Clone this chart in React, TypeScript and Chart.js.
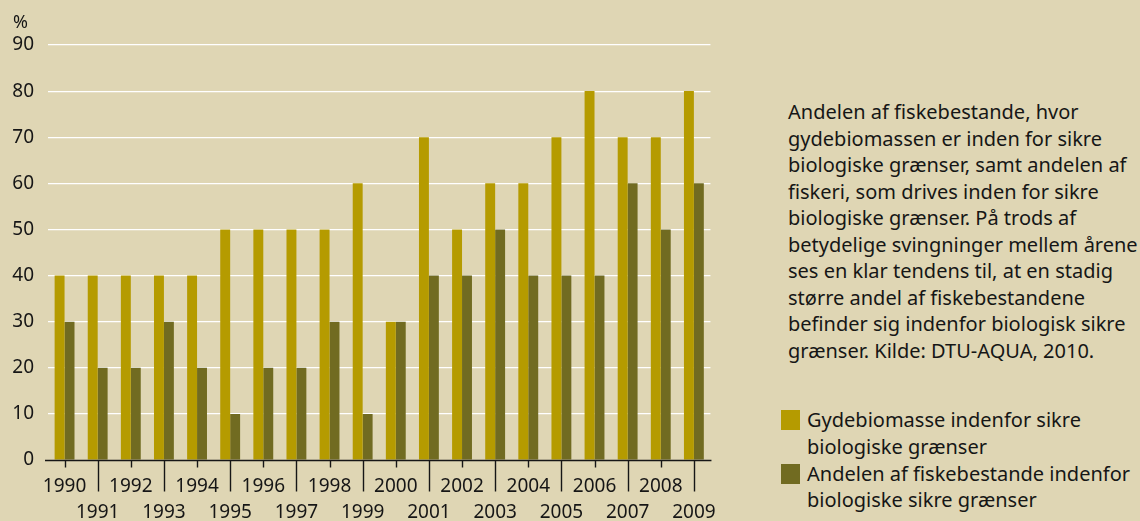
import React, { useEffect, useRef } from "react";
import { Chart, registerables } from "chart.js";

Chart.register(...registerables);

const years = [
  "1990", "1991", "1992", "1993", "1994", "1995", "1996", "1997", "1998", "1999",
  "2000", "2001", "2002", "2003", "2004", "2005", "2006", "2007", "2008", "2009",
];
const gydebiomasse = [40, 40, 40, 40, 40, 50, 50, 50, 50, 60, 30, 70, 50, 60, 60, 70, 80, 70, 70, 80];
const andelen = [30, 20, 20, 30, 20, 10, 20, 20, 30, 10, 30, 40, 40, 50, 40, 40, 40, 60, 50, 60];
const yTickValues = [0, 10, 20, 30, 40, 50, 60, 70, 80, 90];
const unitLabel = "%";
const seriesNames = [
  "Gydebiomasse indenfor sikre biologiske grænser",
  "Andelen af fiskebestande indenfor biologiske sikre grænser",
];
const legendLines = [
  ["Gydebiomasse indenfor sikre", "biologiske grænser"],
  ["Andelen af fiskebestande indenfor", "biologiske sikre grænser"],
];
const descriptionLines = [
  "Andelen af fiskebestande, hvor",
  "gydebiomassen er inden for sikre",
  "biologiske grænser, samt andelen af",
  "fiskeri, som drives inden for sikre",
  "biologiske grænser. På trods af",
  "betydelige svingninger mellem årene",
  "ses en klar tendens til, at en stadig",
  "større andel af fiskebestandene",
  "befinder sig indenfor biologisk sikre",
  "grænser. Kilde: DTU-AQUA, 2010.",
];

const BG = "#dfd6b4";
const GOLD = "#b59b00";
const OLIVE = "#716b21";
const INK = "#161616";
const FONT = "'Noto Sans', 'Open Sans', sans-serif";

const axisPlugin = {
  id: "yearAxis",
  afterDraw(chart: any) {
    const xs = chart.scales.x;
    const ctx = chart.ctx;
    const area = chart.chartArea;
    const y0 = Math.round(area.bottom) + 0.5;
    ctx.save();
    ctx.strokeStyle = INK;
    ctx.lineWidth = 1.4;
    ctx.beginPath();
    ctx.moveTo(area.left - 3, y0);
    ctx.lineTo(area.right + 1, y0);
    ctx.stroke();
    years.forEach((_, i) => {
      const px = Math.round(xs.getPixelForValue(i)) + 0.5;
      ctx.beginPath();
      ctx.moveTo(px, y0);
      ctx.lineTo(px, y0 + (i % 2 === 0 ? 7 : 31));
      ctx.stroke();
    });
    ctx.restore();
  },
};

export default function App() {
  const canvasRef = useRef<HTMLCanvasElement | null>(null);

  useEffect(() => {
    document.body.style.margin = "0";
    const canvas = canvasRef.current;
    if (!canvas) return;
    Chart.defaults.font.family = FONT;
    Chart.defaults.font.size = 19;
    Chart.defaults.color = INK;
    const chart = new Chart(canvas, {
      type: "bar",
      data: {
        labels: years,
        datasets: [
          {
            label: seriesNames[0],
            data: gydebiomasse,
            backgroundColor: GOLD,
            borderWidth: 0,
            categoryPercentage: 0.6,
            barPercentage: 1,
          },
          {
            label: seriesNames[1],
            data: andelen,
            backgroundColor: OLIVE,
            borderWidth: 0,
            categoryPercentage: 0.6,
            barPercentage: 1,
          },
        ],
      },
      options: {
        responsive: false,
        animation: false,
        layout: { padding: { top: 45, right: 15, left: 0, bottom: 0 } },
        plugins: {
          legend: { display: false },
          tooltip: { enabled: false },
        },
        scales: {
          x: {
            offset: true,
            grid: { display: false, drawTicks: false },
            border: { display: false },
            ticks: {
              autoSkip: false,
              maxRotation: 0,
              minRotation: 0,
              padding: 14,
              font: { size: 19, lineHeight: "26px" as any },
              callback: (_v: any, i: number) => (i % 2 === 0 ? [years[i]] : ["", years[i]]),
            },
            afterFit: (s: any) => {
              s.height = 61;
            },
          },
          y: {
            min: 0,
            max: 90,
            afterBuildTicks: (s: any) => {
              s.ticks = yTickValues.map((v) => ({ value: v }));
            },
            grid: {
              drawTicks: false,
              color: (c: any) => (c.tick && c.tick.value === 0 ? "rgba(0,0,0,0)" : "#ffffff"),
              lineWidth: 1.2,
            },
            border: { display: false },
            ticks: { padding: 14, font: { size: 19 } },
            afterFit: (s: any) => {
              s.width = 48;
            },
          },
        },
      },
      plugins: [axisPlugin],
    });
    return () => chart.destroy();
  }, []);

  return (
    <div
      style={{
        position: "absolute",
        left: 0,
        top: 0,
        width: 1140,
        height: 521,
        background: BG,
        overflow: "hidden",
        fontFamily: FONT,
        color: INK,
      }}
    >
      <canvas ref={canvasRef} width={730} height={521} style={{ position: "absolute", left: 0, top: 0 }} />
      <div style={{ position: "absolute", left: 13, top: 8, fontSize: 18, lineHeight: "26px" }}>{unitLabel}</div>
      <div style={{ position: "absolute", left: 788, top: 99, fontSize: 20, lineHeight: "26.5px", whiteSpace: "nowrap" }}>
        {descriptionLines.map((l, i) => (
          <div key={i}>{l}</div>
        ))}
      </div>
      {legendLines.map((lines, k) => (
        <div key={k} style={{ position: "absolute", left: 781, top: 407 + k * 53.5, whiteSpace: "nowrap" }}>
          <div
            style={{
              position: "absolute",
              left: 0,
              top: 3,
              width: 19,
              height: 20,
              background: k === 0 ? GOLD : OLIVE,
            }}
          />
          <div style={{ position: "absolute", left: 26, top: 0, fontSize: 20, lineHeight: "26.7px" }}>
            {lines.map((l, i) => (
              <div key={i}>{l}</div>
            ))}
          </div>
        </div>
      ))}
    </div>
  );
}
